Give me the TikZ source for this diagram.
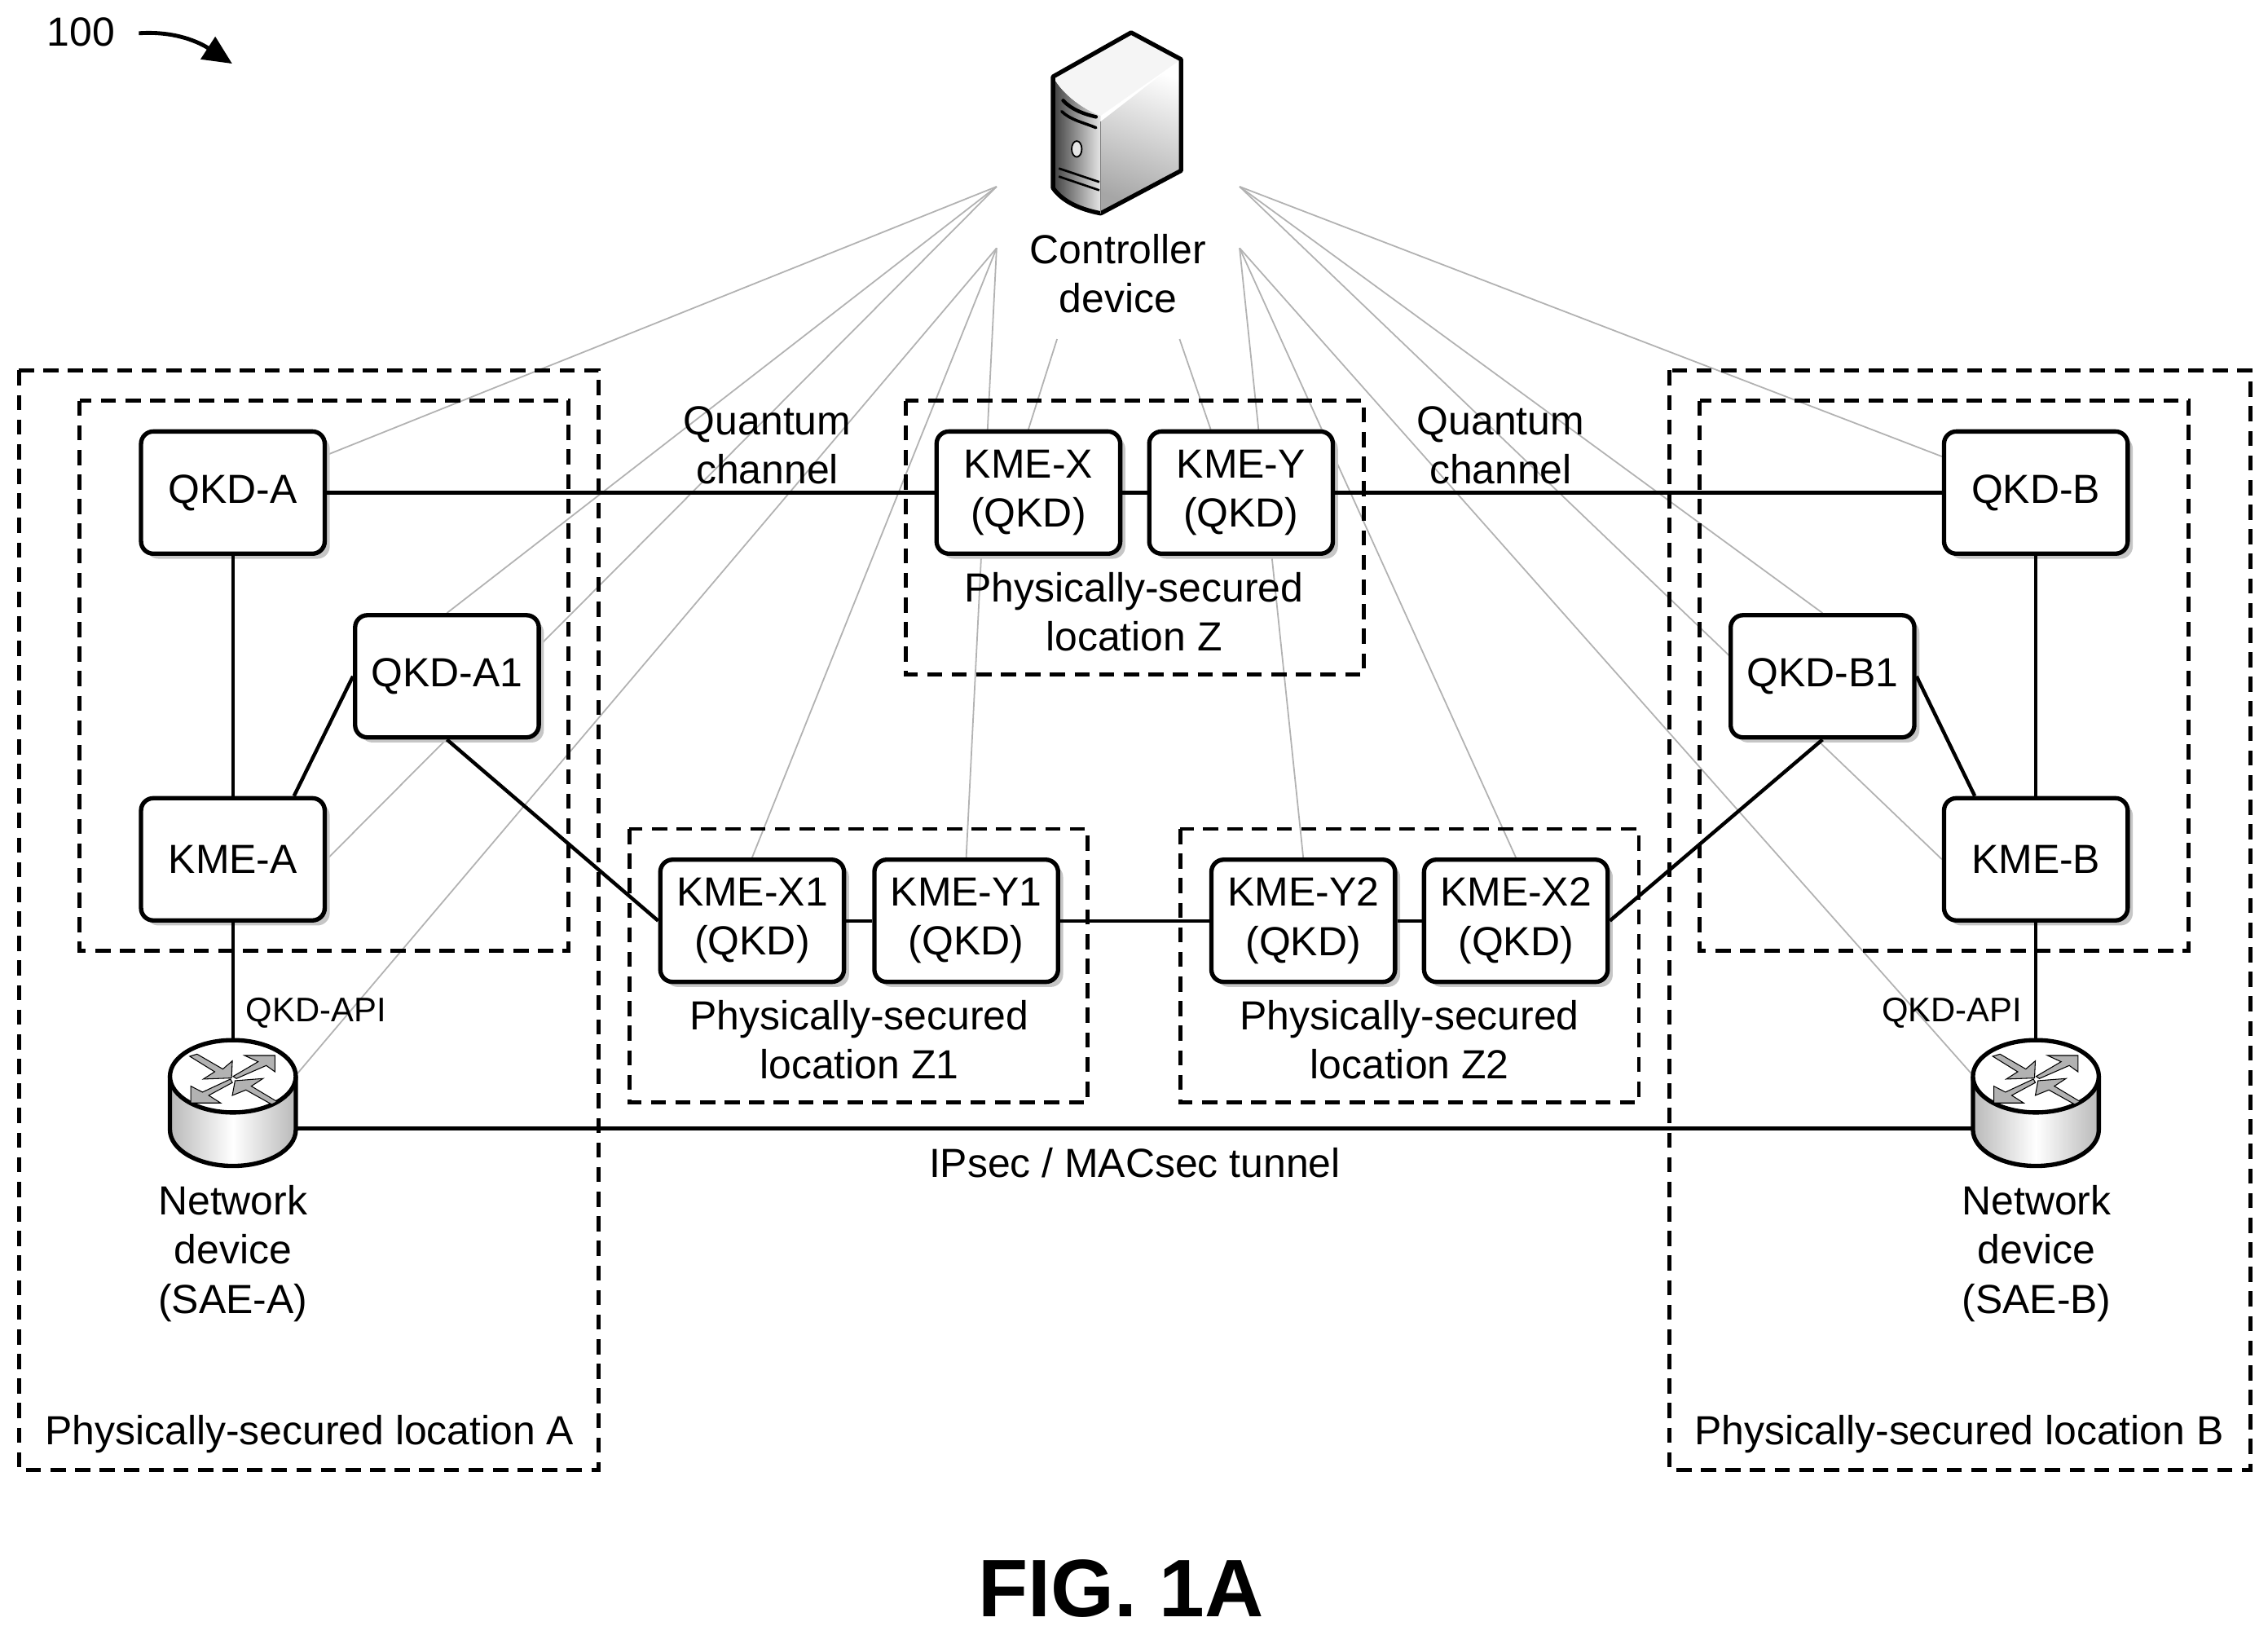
\documentclass[tikz,border=0pt]{standalone}
\usepackage{fontspec}
\setmainfont{Liberation Sans}
\usetikzlibrary{arrows.meta}
\usetikzlibrary{shadows}
\usetikzlibrary{backgrounds}

\tikzset{
    devbox/.style={draw,fill=white,line width=0.06cm,rounded corners=0.17cm,
        minimum width=2.54cm,minimum height=1.69cm,align=center,
        drop shadow={shadow xshift=0.07cm,shadow yshift=-0.07cm,fill=gray!45,opacity=1}},
    zone/.style={line width=0.055cm,dash pattern=on 0.21cm off 0.13cm},
    conn/.style={line width=0.05cm},
    ctrlline/.style={line width=0.02cm,gray!60},
    lbl/.style={align=center,font=\fontsize{16}{19.3}\selectfont},
    smalllbl/.style={font=\fontsize{13.4}{16}\selectfont},
    routerbox/.style={minimum width=1.74cm,minimum height=1.74cm,inner sep=0pt}
}

\newcommand{\routericon}[2]{
    \begin{scope}[shift={(#1,#2)}]
        \shade[left color=gray!55,right color=gray!55,middle color=white]
            (-43.5,-18.5) -- (-43.5,18.5) arc (180:0:43.5 and 25) -- (43.5,-18.5) -- cycle;
        \draw[line width=0.06cm] (-43.5,-18.5) -- (-43.5,18.5) arc (180:0:43.5 and 25) -- (43.5,-18.5);
        \draw[line width=0.06cm,fill=white] (0,-18.5) ellipse (43.5 and 25);
        \begin{scope}[shift={(0,-16)},x=0.003756cm,y=-0.003756cm,shift={(-557,-975)},fill=gray!60,draw=black,line width=0.012cm]
            \filldraw (398,888) -- (425,880) -- (520,935) -- (555,905) -- (552,968) -- (448,972) -- (490,945) -- cycle;
            \filldraw (558,962) -- (650,908) -- (600,885) -- (712,885) -- (712,945) -- (680,922) -- (570,970) -- cycle;
            \filldraw (548,972) -- (555,985) -- (468,1032) -- (512,1060) -- (402,1060) -- (402,998) -- (445,1020) -- cycle;
            \filldraw (720,1055) -- (700,1065) -- (605,1012) -- (555,1032) -- (565,978) -- (668,970) -- (625,998) -- cycle;
        \end{scope}
    \end{scope}
}

\begin{document}
\begin{tikzpicture}[x=0.02cm,y=-0.02cm]
    \useasboundingbox (0,0) rectangle (1568,1130.2);

    \node[lbl] (ref) at (56,22) {100};
    \coordinate (refstart) at (96,23);
    \coordinate (refend) at (160.5,44);
    \draw [line width=0.055cm,-{Triangle[length=0.4cm,width=0.36cm]}] (refstart) .. controls (125,21) and (142,32) .. (refend);

    % server
    \shade[left color=white,right color=gray!70,shading angle=-20] (761,84) -- (816.5,41) -- (816.5,118) -- (761,147.5) -- cycle;
    \shade[left color=black!75,right color=gray!20] (728,53) .. controls (735,66) and (750,76) .. (761,80) -- (761,147.5) .. controls (748,145) and (735,140) .. (728,130) -- cycle;
    \fill[gray!8] (728,53) -- (782,22.5) -- (816.5,41) -- (761,80) .. controls (750,76) and (735,66) .. (728,53);
    \draw[line width=0.03cm] (732,116.4) -- (760,125.8);
    \draw[line width=0.03cm] (732,122) -- (760,131.5);
    \draw[line width=0.05cm,line cap=round] (735,69.5) .. controls (741,76) and (750,79) .. (757.7,80.8);
    \draw[line width=0.04cm,line cap=round] (734,77) .. controls (740,83) and (750,85) .. (757.7,88.3);
    \draw[line width=0.02cm,fill=gray!20] (744.4,103) ellipse (3.5 and 5.5);
    \draw[line width=0.06cm,line join=round] (728,53) -- (782,22.5) -- (816.5,41) -- (816.5,118) -- (761,147.5) .. controls (748,145) and (735,140) .. (728,130) -- cycle;
    \draw[line width=0.015cm,gray] (761,84) -- (761,147.5);
    \node[lbl] (ctrl) at (773,189) {Controller\\device};

    \coordinate (hubUL) at (689,129);
    \coordinate (hubLL) at (689,171.5);
    \coordinate (hubUR) at (857,129);
    \coordinate (hubLR) at (857,171.5);
    \coordinate (hubX) at (730.8,234.4);
    \coordinate (hubY) at (815.5,234.4);

    \node[devbox,lbl] (qkda) at (161,340.5) {QKD-A};
    \node[devbox,lbl] (kmea) at (161,594) {KME-A};
    \node[devbox,lbl] (qkdaone) at (309,467.5) {QKD-A1};
    \node[devbox,lbl] (qkdb) at (1407.5,340.5) {QKD-B};
    \node[devbox,lbl] (kmeb) at (1407.5,594) {KME-B};
    \node[devbox,lbl] (qkdbone) at (1260,467.5) {QKD-B1};
    \node[devbox,lbl] (kmex) at (711,340.5) {KME-X\\(QKD)};
    \node[devbox,lbl] (kmey) at (858,340.5) {KME-Y\\(QKD)};
    \node[devbox,lbl] (kmexone) at (520,636.5) {KME-X1\\(QKD)};
    \node[devbox,lbl] (kmeyone) at (668,636.5) {KME-Y1\\(QKD)};
    \node[devbox,lbl] (kmeytwo) at (901,636.5) {KME-Y2\\(QKD)};
    \node[devbox,lbl] (kmextwo) at (1048,636.5) {KME-X2\\(QKD)};

    \node[routerbox] (routera) at (161,762.5) {};
    \node[routerbox] (routerb) at (1407.5,762.5) {};

    \begin{scope}[on background layer]
        \draw[ctrlline] (hubUL) to (qkda);
        \draw[ctrlline] (hubUL) to (qkdaone.north);
        \draw[ctrlline] (hubUL) to (kmea.east);
        \draw[ctrlline] (hubLL) to ([yshift=0.39cm]routera.east);
        \draw[ctrlline] (hubLL) to (kmexone.north);
        \draw[ctrlline] (hubLL) to (kmeyone.north);
        \draw[ctrlline] (hubX) to (kmex.north);
        \draw[ctrlline] (hubY) to ([xshift=-0.42cm]kmey.north);
        \draw[ctrlline] (hubLR) to (kmeytwo.north);
        \draw[ctrlline] (hubLR) to (kmextwo.north);
        \draw[ctrlline] (hubLR) to ([yshift=0.39cm]routerb.west);
        \draw[ctrlline] (hubUR) to (qkdb);
        \draw[ctrlline] (hubUR) to (qkdbone.north);
        \draw[ctrlline] (hubUR) to (kmeb.west);
    \end{scope}

    \draw[zone] (13,256) rectangle (414,1016);
    \draw[zone] (55,277) rectangle (393,657);
    \draw[zone] (1154,256) rectangle (1556,1016);
    \draw[zone] (1175,277) rectangle (1513,657);
    \draw[zone] (626,277) rectangle (943,466);
    \draw[zone] (435,573) rectangle (752,762);
    \draw[zone] (816,573) rectangle (1133,762);

    \draw [conn] (qkda.east) to (kmex.west);
    \draw [conn] (kmex.east) to (kmey.west);
    \draw [conn] (kmey.east) to (qkdb.west);
    \draw [conn] (qkda.south) to (kmea.north);
    \draw [conn] (kmea.46) to (qkdaone.west);
    \draw [conn] (qkdaone.south) to (kmexone.west);
    \draw [conn] (kmexone.east) to (kmeyone.west);
    \draw [conn] (kmeyone.east) to (kmeytwo.west);
    \draw [conn] (kmeytwo.east) to (kmextwo.west);
    \draw [conn] (kmextwo.east) to (qkdbone.south);
    \draw [conn] (qkdb.south) to (kmeb.north);
    \draw [conn] (qkdbone.east) to (kmeb.134);
    \draw [conn] (kmea.south) to (routera.north);
    \draw [conn] (kmeb.south) to (routerb.north);
    \draw [conn] ([yshift=-0.35cm]routera.east) to ([yshift=-0.35cm]routerb.west);

    \routericon{161}{762.5}
    \routericon{1407.5}{762.5}

    \node[lbl] (chanl) at (530.5,308) {Quantum\\channel};
    \node[lbl] (chanr) at (1037.5,308) {Quantum\\channel};
    \node[lbl] (locz) at (784,423) {Physically-secured\\location Z};
    \node[lbl] (loczone) at (594,718.5) {Physically-secured\\location Z1};
    \node[lbl] (locztwo) at (974.5,718.5) {Physically-secured\\location Z2};
    \node[lbl] (loca) at (214,991.5) {Physically-secured location A};
    \node[lbl] (locb) at (1354.5,991.5) {Physically-secured location B};
    \node[smalllbl] (apia) at (218.5,700) {QKD-API};
    \node[smalllbl] (apib) at (1349.5,700) {QKD-API};
    \node[lbl] (neta) at (161,866.5) {Network\\device\\(SAE-A)};
    \node[lbl] (netb) at (1408,866.5) {Network\\device\\(SAE-B)};
    \node[lbl] (tunnel) at (784.5,804) {IPsec / MACsec tunnel};
    \node[font=\fontsize{32.1}{36}\selectfont\bfseries] (fig) at (775,1098) {FIG. 1A};
\end{tikzpicture}
\end{document}
